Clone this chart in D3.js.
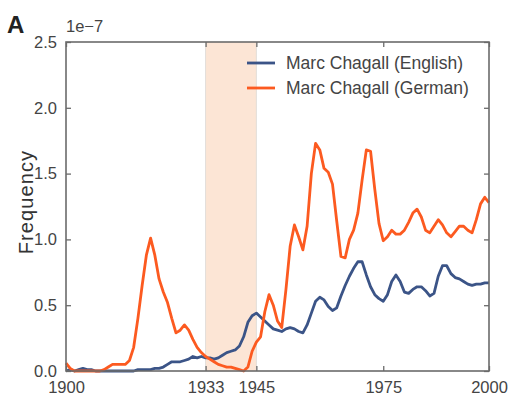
<!DOCTYPE html>
<html>
<head>
<meta charset="utf-8">
<script src="https://cdn.jsdelivr.net/npm/d3@7"></script>
<style>
  body { margin: 0; background: #fff; }
  svg text { font-family: "Liberation Sans", Arial, sans-serif; fill: #444; }
</style>
</head>
<body>
<svg id="chart" width="512" height="397"></svg>
<script>
// years 1900..2000, frequency in units of 1e-7
var startYear = 1900;
var english = [
  0.00, 0.01, 0.00, 0.01, 0.02, 0.01, 0.01, 0.00, 0.00, 0.00,
  0.00, 0.00, 0.00, 0.00, 0.00, 0.00, 0.00, 0.01, 0.01, 0.01,
  0.01, 0.02, 0.02, 0.03, 0.05, 0.07, 0.07, 0.07, 0.08, 0.09,
  0.11, 0.10, 0.11, 0.10, 0.10, 0.09, 0.10, 0.12, 0.14, 0.15,
  0.16, 0.19, 0.26, 0.37, 0.42, 0.44, 0.41, 0.38, 0.35, 0.32,
  0.31, 0.30, 0.32, 0.33, 0.32, 0.30, 0.29, 0.35, 0.44, 0.53,
  0.56, 0.54, 0.49, 0.46, 0.48, 0.57, 0.65, 0.72, 0.78, 0.83,
  0.83, 0.73, 0.64, 0.58, 0.55, 0.53, 0.58, 0.68, 0.73, 0.68,
  0.60, 0.59, 0.62, 0.64, 0.64, 0.61, 0.57, 0.59, 0.72, 0.80,
  0.80, 0.74, 0.71, 0.70, 0.68, 0.66, 0.65, 0.66, 0.66, 0.67,
  0.67
];
var german = [
  0.06, 0.02, 0.00, 0.00, 0.00, 0.00, 0.00, 0.00, 0.00, 0.01,
  0.03, 0.05, 0.05, 0.05, 0.05, 0.08, 0.18, 0.40, 0.65, 0.88,
  1.01, 0.88, 0.70, 0.60, 0.52, 0.40, 0.29, 0.31, 0.35, 0.31,
  0.24, 0.18, 0.14, 0.11, 0.09, 0.07, 0.05, 0.04, 0.03, 0.03,
  0.02, 0.01, 0.00, 0.03, 0.15, 0.22, 0.26, 0.45, 0.58, 0.50,
  0.38, 0.33, 0.62, 0.95, 1.11, 1.02, 0.92, 1.10, 1.50, 1.73,
  1.68, 1.54, 1.51, 1.42, 1.14, 0.87, 0.86, 1.00, 1.07, 1.20,
  1.45, 1.68, 1.67, 1.38, 1.12, 0.99, 1.02, 1.07, 1.04, 1.04,
  1.07, 1.13, 1.20, 1.23, 1.17, 1.07, 1.05, 1.10, 1.15, 1.11,
  1.05, 1.02, 1.06, 1.10, 1.10, 1.07, 1.05, 1.15, 1.27, 1.32,
  1.28
];
var xTicks = [1900, 1933, 1945, 1975, 2000];
var yTicks = [0, 0.5, 1.0, 1.5, 2.0, 2.5];
var shadeYears = [1933, 1945];
var seriesNames = ["Marc Chagall (English)", "Marc Chagall (German)"];
var seriesColors = ["#3b5487", "#fc5a20"];

var svg = d3.select("#chart");
var margin = {left: 66, right: 23, top: 42, bottom: 26};
var W = 512, H = 397;

var x = d3.scaleLinear().domain([1900, 2000]).range([margin.left, W - margin.right]);
var y = d3.scaleLinear().domain([0, 2.5]).range([H - margin.bottom, margin.top]);

// shaded period
svg.append("rect")
  .attr("x", x(shadeYears[0]))
  .attr("y", y(2.5))
  .attr("width", x(shadeYears[1]) - x(shadeYears[0]))
  .attr("height", y(0) - y(2.5))
  .attr("fill", "#fce5d5");
shadeYears.forEach(function(yr){
  svg.append("line")
    .attr("x1", x(yr)).attr("x2", x(yr))
    .attr("y1", y(2.5)).attr("y2", y(0))
    .attr("stroke", "#e2ddd9").attr("stroke-width", 1);
});

var line = d3.line()
  .x(function(d, i){ return x(startYear + i); })
  .y(function(d){ return y(d); });

[english, german].forEach(function(s, k){
  svg.append("path")
    .datum(s)
    .attr("d", line)
    .attr("fill", "none")
    .attr("stroke", seriesColors[k])
    .attr("stroke-width", 2.8)
    .attr("stroke-linejoin", "round");
});

// axes (ticks inward on all four sides)
var axColor = "#6b6b6b";
function styleAxis(g){
  g.select(".domain").remove();
  g.selectAll(".tick line").attr("stroke", axColor).attr("stroke-width", 1.3);
  g.selectAll(".tick text").attr("font-size", "16.5px").attr("fill", "#444");
}
svg.append("g")
  .attr("transform", "translate(0," + y(0) + ")")
  .call(d3.axisBottom(x).tickValues(xTicks).tickSize(-5).tickPadding(8).tickFormat(d3.format("d")))
  .call(styleAxis)
  .selectAll(".tick text").attr("dy", "0.85em");
svg.append("g")
  .attr("transform", "translate(0," + y(2.5) + ")")
  .call(d3.axisTop(x).tickValues(xTicks).tickSize(-5).tickFormat(""))
  .call(styleAxis);
svg.append("g")
  .attr("transform", "translate(" + x(1900) + ",0)")
  .call(d3.axisLeft(y).tickValues(yTicks).tickSize(-5).tickPadding(9).tickFormat(d3.format(".1f")))
  .call(styleAxis);
svg.append("g")
  .attr("transform", "translate(" + x(2000) + ",0)")
  .call(d3.axisRight(y).tickValues(yTicks).tickSize(-5).tickFormat(""))
  .call(styleAxis);

// frame
svg.append("rect")
  .attr("x", x(1900)).attr("y", y(2.5))
  .attr("width", x(2000) - x(1900)).attr("height", y(0) - y(2.5))
  .attr("fill", "none").attr("stroke", axColor).attr("stroke-width", 1.6);

// legend
seriesNames.forEach(function(name, k){
  var ly = 63 + k * 25;
  svg.append("line")
    .attr("x1", 247).attr("x2", 275)
    .attr("y1", ly).attr("y2", ly)
    .attr("stroke", seriesColors[k]).attr("stroke-width", 2.8);
  svg.append("text")
    .attr("x", 286).attr("y", ly + 6)
    .attr("font-size", "17.5px")
    .text(name);
});

// labels
svg.append("text")
  .attr("transform", "translate(33,202) rotate(-90)")
  .attr("text-anchor", "middle")
  .attr("font-size", "20px")
  .attr("letter-spacing", "1.1px")
  .style("fill", "#333")
  .text("Frequency");
svg.append("text")
  .attr("x", 66).attr("y", 32)
  .attr("font-size", "16.5px")
  .text("1e\u22127");
svg.append("text")
  .attr("x", 7).attr("y", 33)
  .attr("font-size", "24px")
  .attr("font-weight", "bold")
  .style("fill", "#222")
  .text("A");
</script>
</body>
</html>
